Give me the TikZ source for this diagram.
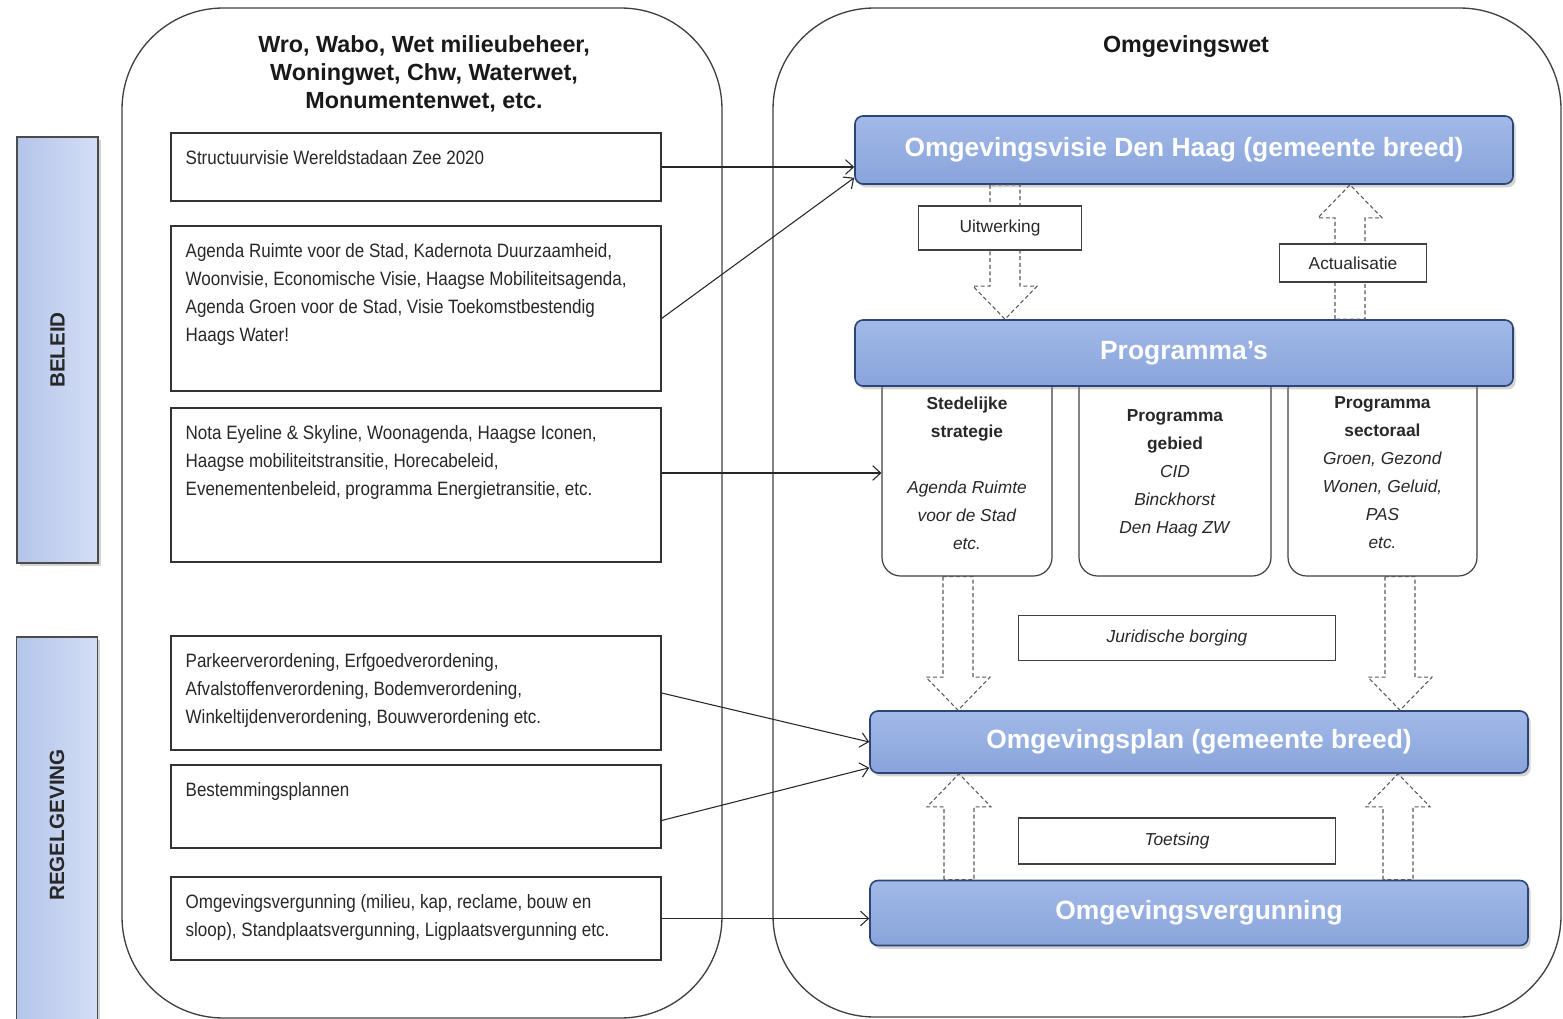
\documentclass[tikz,border=0pt]{standalone}
\usepackage{fontspec}
\setmainfont{Liberation Sans}
\newfontfamily\narrowfont[FakeStretch=0.88]{Liberation Sans}
\usepackage{tikz}
\usetikzlibrary{calc,shadows,arrows.meta}

\definecolor{boxblue}{RGB}{137,164,219}
\definecolor{boxblueup}{RGB}{162,185,232}
\definecolor{boxedge}{RGB}{44,68,118}
\definecolor{sideleft}{RGB}{180,197,234}
\definecolor{sideright}{RGB}{212,222,244}
\definecolor{txtgray}{RGB}{40,40,40}

% hollow dashed block arrow: x reference, tail, tip, sense (1 down, -1 up)
\newcommand{\blockarrow}[4]{%
  \draw[blockarr] ($(#1 |- #2)+(-15,0)$) -- ($(#1 |- #3)+(-15,{-33*(#4)})$) -- ($(#1 |- #3)+(-32,{-33*(#4)})$) -- (#1 |- #3) -- ($(#1 |- #3)+(32,{-33*(#4)})$) -- ($(#1 |- #3)+(15,{-33*(#4)})$) -- ($(#1 |- #2)+(15,0)$) -- cycle ;}

\begin{document}
\begin{tikzpicture}[x=0.75pt,y=-0.75pt,
  outline/.style={draw=black!75,line width=1pt,rounded corners=76pt},
  sidebox/.style={draw=black!70,line width=1pt,left color=sideleft,right color=sideright,drop shadow={opacity=0.35,shadow xshift=2pt,shadow yshift=-2pt},minimum width=60.75pt},
  sidetext/.style={rotate=90,font=\bfseries\fontsize{15.5}{17}\selectfont,text=txtgray},
  heading/.style={font=\bfseries\fontsize{17.5}{21}\selectfont,align=center,text=black!90},
  lawbox/.style={draw=black!80,line width=0.9pt,fill=white,minimum width=367.5pt,inner sep=0pt},
  lawtext/.style={anchor=north west,inner sep=0pt,align=left,text=txtgray,font=\narrowfont\fontsize{14.5}{21}\selectfont},
  mainbox/.style={draw=boxedge,line width=1.2pt,rounded corners=6pt,top color=boxblueup,bottom color=boxblue,minimum width=493.5pt,text=white,font=\bfseries\fontsize{19.8}{23}\selectfont,drop shadow={opacity=0.35,shadow xshift=2pt,shadow yshift=-2.5pt}},
  progbox/.style={draw=black!75,line width=0.9pt,fill=white,rounded corners=14pt,minimum height=154.5pt,align=center,text=txtgray,font=\fontsize{13}{21}\selectfont},
  tagbox/.style={draw=black!75,line width=0.9pt,fill=white,text=txtgray,font=\fontsize{13}{15}\selectfont},
  blockarr/.style={draw=black!65,densely dashed,line width=0.8pt},
  conn/.style={-{Straight Barb[length=6pt,width=11pt]},black!85,line width=0.8pt}]
\useasboundingbox (0,0) rectangle (1563,1019);

%Outlines
\draw[outline] (122,8) rectangle (722,1018);
\draw[outline] (773,8) rectangle (1561,1017);

%Side bars
\node[sidebox,minimum height=319.5pt] (beleid) at (57.5,350) {};
\node[sidetext] (beleidtxt) at (beleid) {BELEID};
\node[sidebox,minimum height=291pt] (regel) at (57,831) {};
\node[sidetext] (regeltxt) at ($(regel)+(0,-6)$) {REGELGEVING};

%Headings
\node[heading] (wetten) at (424,74) {Wro, Wabo, Wet milieubeheer,\\Woningwet, Chw, Waterwet,\\Monumentenwet, etc.};
\node[heading] (omgwet) at (1186,47) {Omgevingswet};

%Left boxes
\node[lawbox,minimum height=51pt] (struct) at (416,167) {};
\node[lawtext] (structtxt) at ($(struct.north west)+(15,18)$) {Structuurvisie Wereldstadaan Zee 2020};
\node[lawbox,minimum height=123.75pt] (agenda) at (416,308.5) {};
\node[lawtext] (agendatxt) at ($(agenda.north west)+(15,18)$) {Agenda Ruimte voor de Stad, Kadernota Duurzaamheid,\\Woonvisie, Economische Visie, Haagse Mobiliteitsagenda,\\Agenda Groen voor de Stad, Visie Toekomstbestendig\\Haags Water!};
\node[lawbox,minimum height=115.5pt] (nota) at (416,485) {};
\node[lawtext] (notatxt) at ($(nota.north west)+(15,18)$) {Nota Eyeline \& Skyline, Woonagenda, Haagse Iconen,\\Haagse mobiliteitstransitie, Horecabeleid,\\Evenementenbeleid, programma Energietransitie, etc.};
\node[lawbox,minimum height=85.5pt] (verord) at (416,693) {};
\node[lawtext] (verordtxt) at ($(verord.north west)+(15,18)$) {Parkeerverordening, Erfgoedverordening,\\Afvalstoffenverordening, Bodemverordening,\\Winkeltijdenverordening, Bouwverordening etc.};
\node[lawbox,minimum height=62.25pt] (bestplan) at (416,806.5) {};
\node[lawtext] (bestplantxt) at ($(bestplan.north west)+(15,18)$) {Bestemmingsplannen};
\node[lawbox,minimum height=62.25pt] (vergun) at (416,918.5) {};
\node[lawtext] (verguntxt) at ($(vergun.north west)+(15,18)$) {Omgevingsvergunning (milieu, kap, reclame, bouw en\\sloop), Standplaatsvergunning, Ligplaatsvergunning etc.};

%Programma boxes
\node[progbox,minimum width=127.5pt] (strat) at (967,473) {\textbf{Stedelijke}\\\textbf{strategie}\\[21pt]\textit{Agenda Ruimte}\\\textit{voor de Stad}\\\textit{etc.}};
\node[progbox,minimum width=144pt] (gebied) at (1175,473) {\textbf{Programma}\\\textbf{gebied}\\\textit{CID}\\\textit{Binckhorst}\\\textit{Den Haag ZW}};
\node[progbox,minimum width=141.75pt] (sector) at (1382.5,473) {\textbf{Programma}\\\textbf{sectoraal}\\\textit{Groen, Gezond}\\\textit{Wonen, Geluid,}\\\textit{PAS}\\\textit{etc.}};

%Main boxes
\node[mainbox,minimum height=51pt] (visie) at (1184,150) {Omgevingsvisie Den Haag (gemeente breed)};
\node[mainbox,minimum height=49.5pt] (progs) at (1184,353) {Programma's};
\node[mainbox,minimum height=46.5pt] (plan) at (1199,742) {Omgevingsplan (gemeente breed)};
\node[mainbox,minimum height=48.75pt] (verg) at (1199,913) {Omgevingsvergunning};

%Block arrows
\coordinate (xa) at (1005,0);
\coordinate (xb) at (1350,0);
\coordinate (xc) at (958,0);
\coordinate (xd) at (1400,0);
\coordinate (xe) at (959,0);
\coordinate (xf) at (1398,0);
\blockarrow{xa}{visie.south}{progs.north}{1}
\blockarrow{xb}{progs.north}{visie.south}{-1}
\blockarrow{xc}{strat.south}{plan.north}{1}
\blockarrow{xd}{sector.south}{plan.north}{1}
\blockarrow{xe}{verg.north}{plan.south}{-1}
\blockarrow{xf}{verg.north}{plan.south}{-1}

%Tags
\node[tagbox,minimum width=122.25pt,minimum height=33pt] (uitw) at (1000,228) {Uitwerking};
\node[tagbox,minimum width=110.25pt,minimum height=28.5pt] (actu) at (1353,263) {Actualisatie};
\node[tagbox,minimum width=237.75pt,minimum height=33.75pt] (jurid) at (1177,638) {\itshape Juridische borging};
\node[tagbox,minimum width=237.75pt,minimum height=34.5pt] (toets) at (1177,841) {\itshape Toetsing};

%Connectors
\draw[conn] (struct.east) -- (visie.west |- struct.east);
\draw[conn] ($(agenda.east)+(0,10)$) -- ($(visie.south west)+(0,-7)$);
\draw[conn] (nota.east |- strat.west) -- (strat.west);
\draw[conn] (verord.east) -- (plan.west);
\draw[conn] ($(bestplan.east)+(0,14)$) -- ($(plan.south west)+(0,-6)$);
\draw[conn] (vergun.east) -- (verg.west |- vergun.east);

\end{tikzpicture}
\end{document}
